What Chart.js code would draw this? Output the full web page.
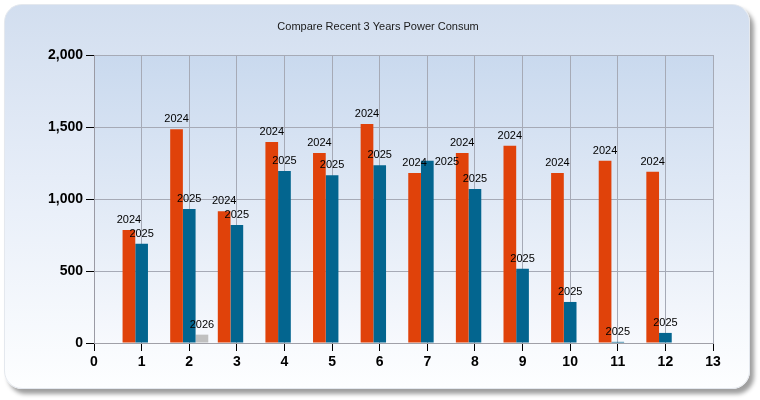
<!DOCTYPE html>
<html>
<head>
<meta charset="utf-8">
<script src="https://cdn.jsdelivr.net/npm/chart.js@4.4.1/dist/chart.umd.min.js"></script>
<style>
  html, body { margin: 0; padding: 0; background: #ffffff; }
  #wrap { position: relative; width: 760px; height: 400px; overflow: hidden; }
  #panel {
    position: absolute; left: 4px; top: 4px; width: 746px; height: 385px;
    border-radius: 18px;
    background: linear-gradient(to bottom, #d2deef 0%, #e6edf8 45%, #fdfeff 100%);
    box-shadow: 4px 5px 4px rgba(0,0,0,0.38);
    border: 1px solid #e4e8ee;
    box-sizing: border-box;
  }
  #c { position: absolute; left: 0; top: 0; }
</style>
</head>
<body>
<div id="wrap">
  <div id="panel"></div>
  <canvas id="c" width="760" height="400"></canvas>
</div>
<script>
const chartTitle = "Compare Recent 3 Years Power Consum";
const categories = ["0","1","2","3","4","5","6","7","8","9","10","11","12","13"];
const seriesNames = ["2024", "2025", "2026"];
const values2024 = [null, 785, 1485, 915, 1395, 1320, 1520, 1180, 1320, 1370, 1180, 1265, 1190, null];
const values2025 = [null, 690, 930, 820, 1195, 1165, 1235, 1265, 1070, 515, 285, 8, 70, null];
const values2026 = [null, null, 58, null, null, null, null, null, null, null, null, null, null, null];
const yTicks = [0, 500, 1000, 1500, 2000];

const FONT = '"Liberation Sans", Arial, sans-serif';

const plotBg = {
  id: 'plotBg',
  beforeDraw(chart) {
    const { ctx, chartArea: a } = chart;
    const g = ctx.createLinearGradient(0, a.top, 0, a.bottom);
    g.addColorStop(0, '#c9d9ee');
    g.addColorStop(1, '#f7f9fd');
    ctx.save();
    ctx.fillStyle = g;
    ctx.fillRect(a.left, a.top, a.right - a.left, a.bottom - a.top);
    ctx.restore();
  }
};

const titleDraw = {
  id: 'titleDraw',
  afterDraw(chart) {
    const ctx = chart.ctx;
    ctx.save();
    ctx.font = '11px ' + FONT;
    ctx.fillStyle = '#1a1a1a';
    ctx.textAlign = 'center';
    ctx.textBaseline = 'alphabetic';
    ctx.fillText(chartTitle, 378, 30);
    ctx.restore();
  }
};

const barLabels = {
  id: 'barLabels',
  afterDatasetsDraw(chart) {
    const ctx = chart.ctx;
    ctx.save();
    ctx.font = '11px ' + FONT;
    ctx.fillStyle = '#000000';
    ctx.textBaseline = 'alphabetic';
    ctx.textAlign = 'left';
    const placed = [];
    const pad = 1.5;
    const overlaps = (r) => placed.some(p =>
      r.x1 - pad < p.x2 + pad && r.x2 + pad > p.x1 - pad &&
      r.y1 - pad < p.y2 + pad && r.y2 + pad > p.y1 - pad);
    const n = categories.length;
    for (let i = 0; i < n; i++) {
      chart.data.datasets.forEach((ds, di) => {
        const v = ds.data[i];
        if (v === null || v === undefined) return;
        const el = chart.getDatasetMeta(di).data[i];
        const txt = ds.label;
        const w = ctx.measureText(txt).width;
        let base = el.y - 7;
        let x1 = el.x - w / 2;
        let r = { x1: x1, x2: x1 + w, y1: base - 9, y2: base + 1 };
        if (overlaps(r)) {
          const right = el.x + el.width / 2 + 1;
          base = el.y + 4.5;
          r = { x1: right, x2: right + w, y1: base - 9, y2: base + 1 };
        }
        placed.push(r);
        ctx.fillText(txt, r.x1, base);
      });
    }
    ctx.restore();
  }
};

new Chart(document.getElementById('c'), {
  type: 'bar',
  data: {
    labels: categories,
    datasets: [
      { label: seriesNames[0], data: values2024, backgroundColor: '#e0420a' },
      { label: seriesNames[1], data: values2025, backgroundColor: '#03658f' },
      { label: seriesNames[2], data: values2026, backgroundColor: '#c0c0c0' }
    ]
  },
  options: {
    responsive: false,
    animation: false,
    devicePixelRatio: 1,
    categoryPercentage: 0.8,
    barPercentage: 1.0,
    layout: { padding: { left: 0, top: 55, right: 47, bottom: 0 } },
    plugins: {
      legend: { display: false },
      title: { display: false },
      tooltip: { enabled: false }
    },
    scales: {
      x: {
        type: 'category',
        offset: false,
        grid: { offset: false, color: '#a6aab6', tickColor: '#000000', tickLength: 8, lineWidth: 1 },
        border: { color: '#a0a0a8' },
        ticks: {
          autoSkip: false, maxRotation: 0, padding: 3,
          color: '#000000', font: { family: FONT, size: 14, weight: 'bold' }
        },
        afterFit(s) { s.height = 57; }
      },
      y: {
        min: 0, max: 2000,
        afterBuildTicks(s) { s.ticks = yTicks.map(v => ({ value: v })); },
        grid: { color: '#a6aab6', tickColor: '#000000', tickLength: 8, lineWidth: 1 },
        border: { color: '#9a9aa4' },
        ticks: {
          padding: 3, color: '#000000',
          font: { family: FONT, size: 14, weight: 'bold' },
          callback: v => v.toLocaleString('en-US')
        },
        afterFit(s) { s.width = 94; }
      }
    }
  },
  plugins: [plotBg, barLabels, titleDraw]
});
</script>
</body>
</html>
